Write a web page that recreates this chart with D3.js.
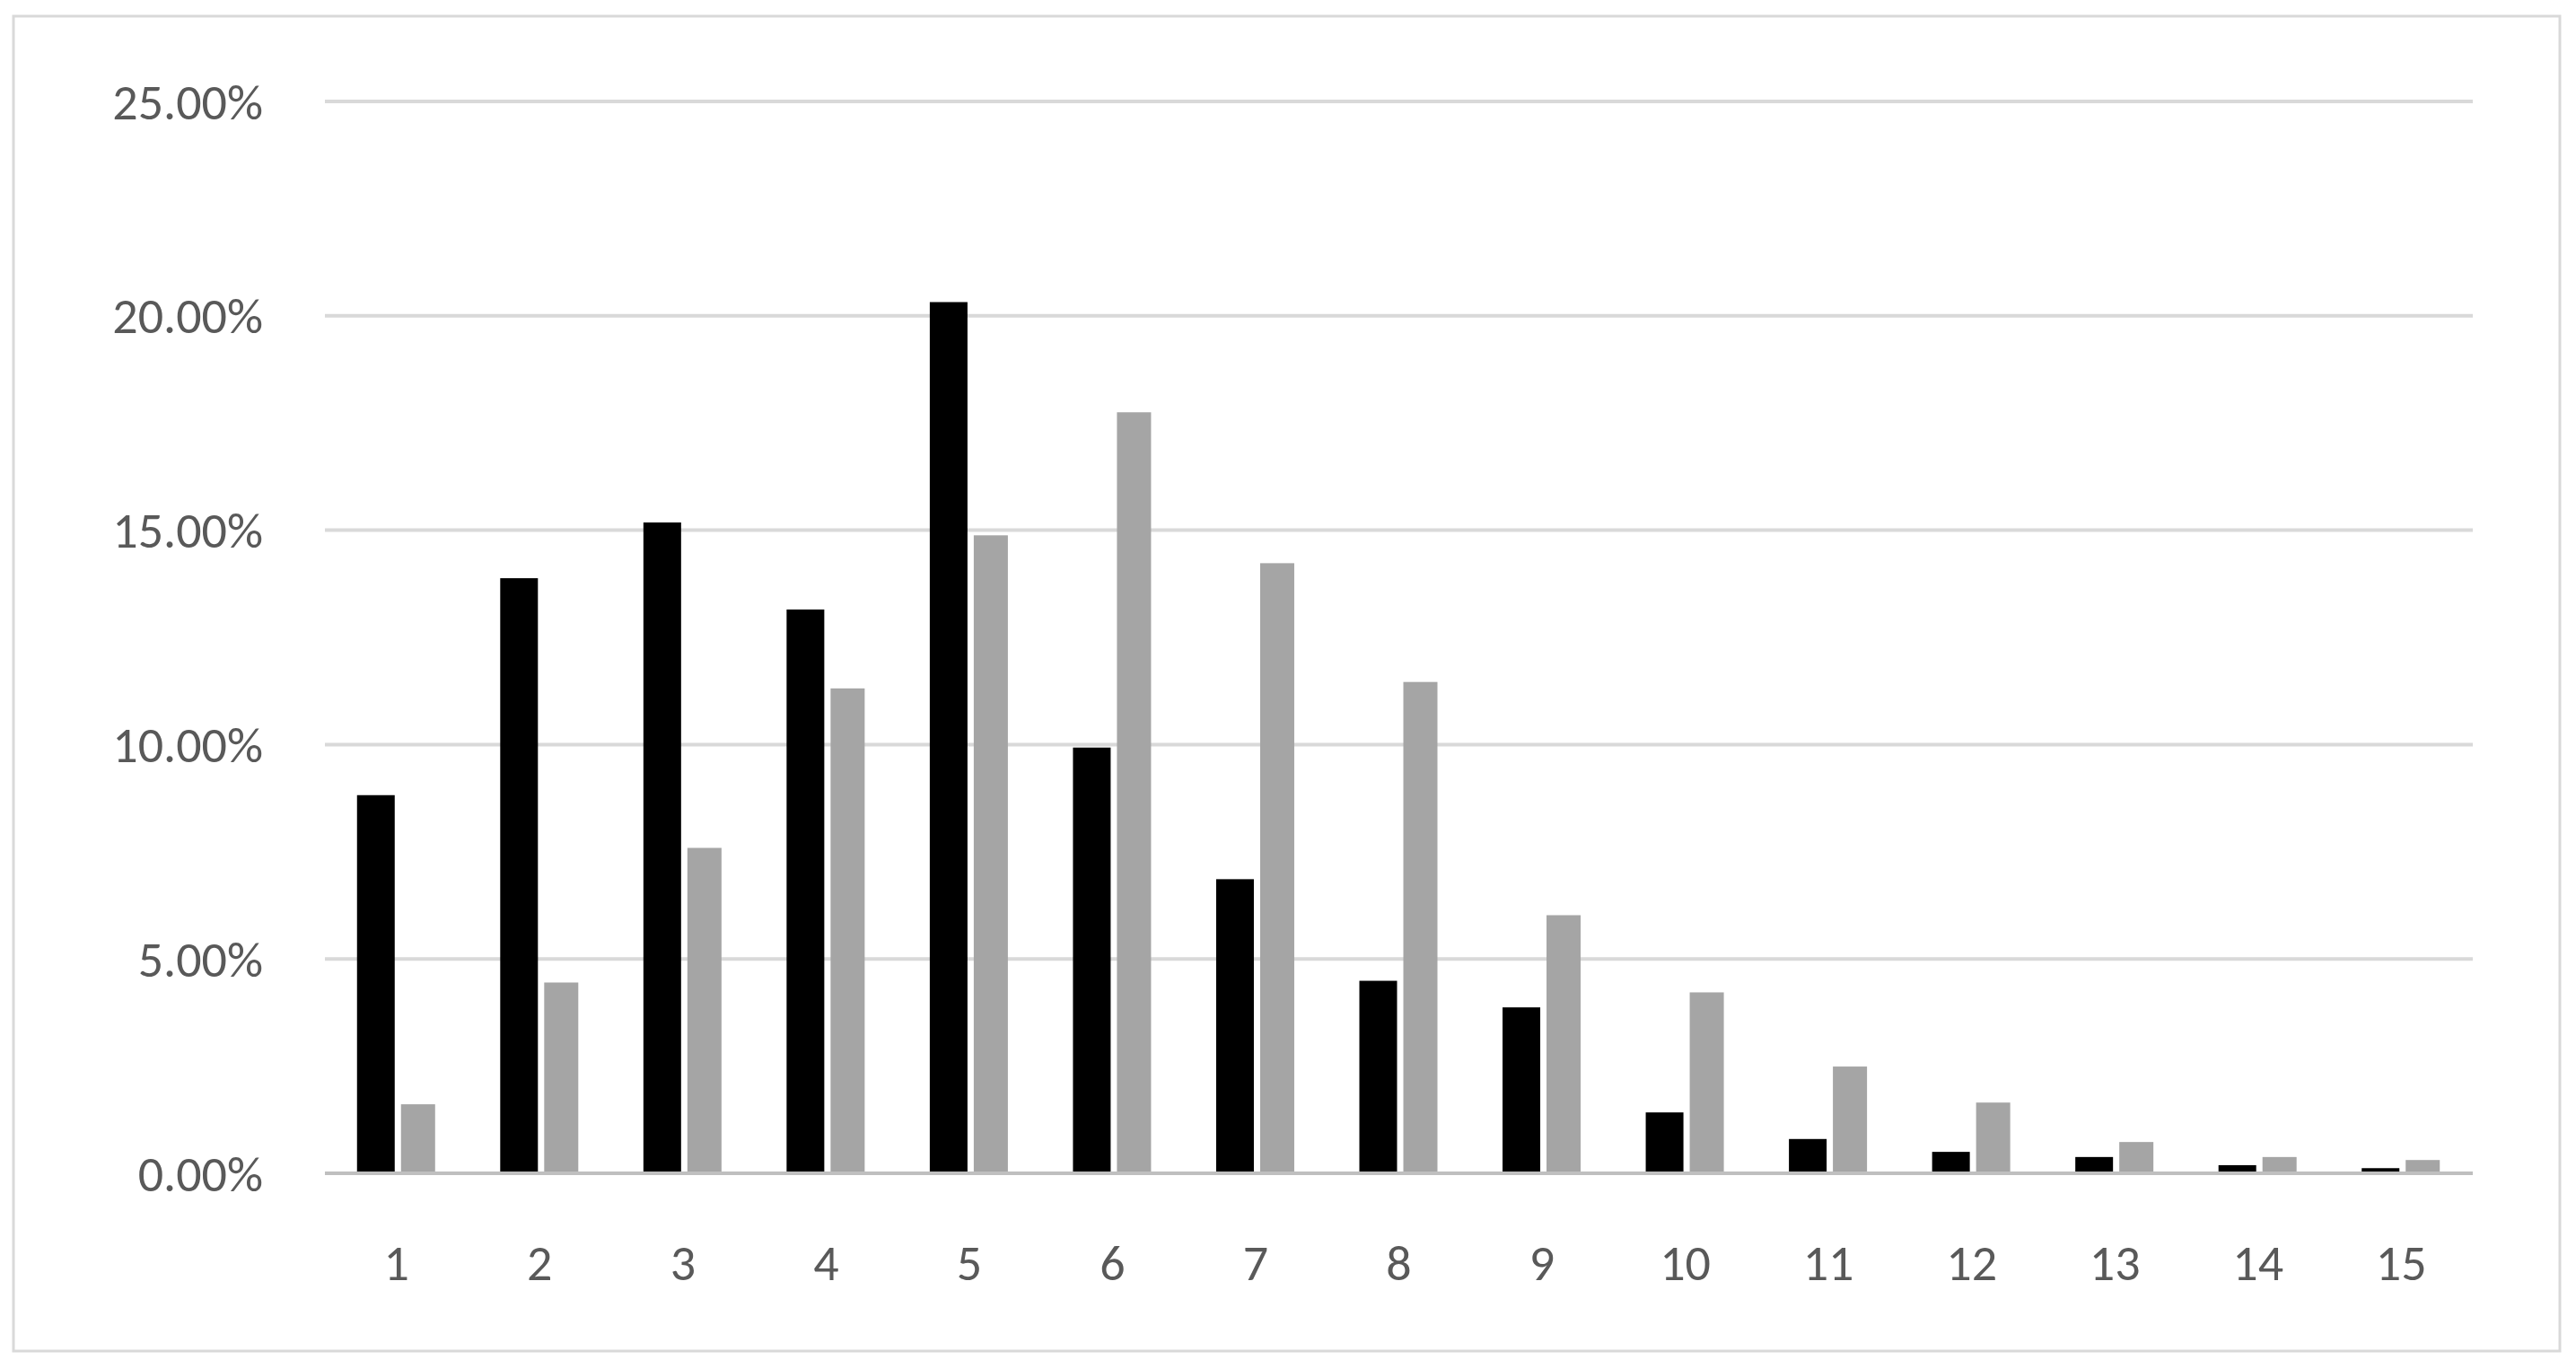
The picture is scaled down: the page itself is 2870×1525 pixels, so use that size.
<!DOCTYPE html>
<html><head><meta charset="utf-8">
<script src="https://cdn.jsdelivr.net/npm/d3@7"></script>
<style>body{margin:0;background:#fff}svg{display:block}</style>
</head><body>
<script>
const categories = ["1","2","3","4","5","6","7","8","9","10","11","12","13","14","15"];
const seriesA = [8.82,13.88,15.18,13.15,20.32,9.93,6.86,4.49,3.87,1.42,0.80,0.50,0.38,0.19,0.12];
const seriesB = [1.61,4.45,7.59,11.31,14.88,17.75,14.23,11.46,6.02,4.22,2.49,1.65,0.73,0.38,0.31];
const yTicks = [0,5,10,15,20,25];

const W=2870,H=1525;
const svg=d3.select("body").append("svg").attr("width",W).attr("height",H);
svg.append("rect").attr("x",15).attr("y",18).attr("width",2837).attr("height",1487)
  .attr("fill","#fff").attr("stroke","#d9d9d9").attr("stroke-width",3);
const L=362,R=2755,T=113,B=1307;
const x=d3.scaleBand().domain(categories).range([L,R]);
const y=d3.scaleLinear().domain([0,25]).range([B,T]);
const g=svg.append("g");
g.selectAll(".grid").data(yTicks).join("line")
  .attr("x1",L).attr("x2",R).attr("y1",d=>y(d)).attr("y2",d=>y(d))
  .attr("stroke","#d9d9d9").attr("stroke-width",4);
g.selectAll(".yl").data(yTicks).join("text")
  .attr("x",293).attr("y",d=>y(d)).attr("dy","0.35em").attr("text-anchor","end")
  .attr("font-family","Calibri, Carlito, 'Liberation Sans', sans-serif").attr("font-size",56).attr("fill","#595959")
  .text(d=>d.toFixed(2)+"%");
const c=d=>x(d)+x.bandwidth()/2;
g.selectAll(".a").data(categories).join("rect")
  .attr("x",d=>c(d)-44).attr("width",42)
  .attr("y",(d,i)=>y(seriesA[i])).attr("height",(d,i)=>y(0)-y(seriesA[i])).attr("fill","#000");
g.selectAll(".b").data(categories).join("rect")
  .attr("x",d=>c(d)+5).attr("width",38)
  .attr("y",(d,i)=>y(seriesB[i])).attr("height",(d,i)=>y(0)-y(seriesB[i])).attr("fill","#a5a5a5");
g.append("line").attr("x1",L).attr("x2",R).attr("y1",B).attr("y2",B).attr("stroke","#bfbfbf").attr("stroke-width",4);
g.selectAll(".xl").data(categories).join("text")
  .attr("x",d=>c(d)).attr("y",1406).attr("dy","0.35em").attr("text-anchor","middle")
  .attr("font-family","Calibri, Carlito, 'Liberation Sans', sans-serif").attr("font-size",56).attr("fill","#595959")
  .text(d=>d);
</script>
</body></html>
